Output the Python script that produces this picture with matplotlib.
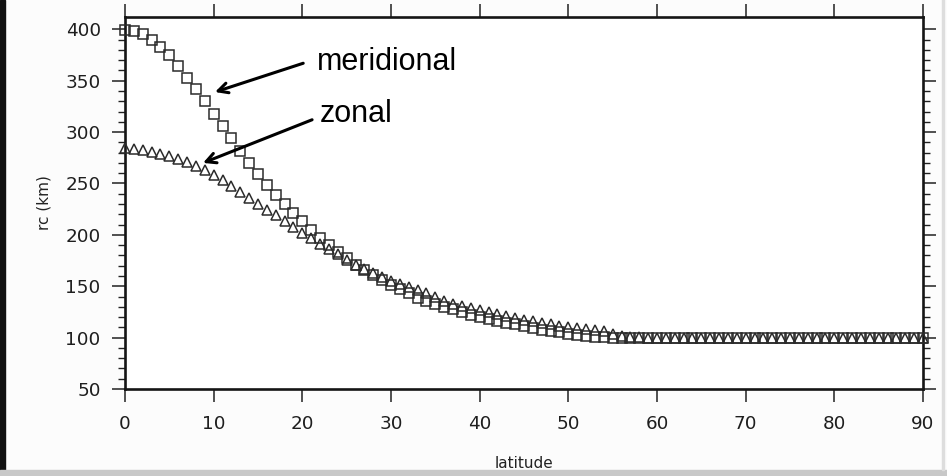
import numpy as np
import matplotlib
matplotlib.use("Agg")
from matplotlib import pyplot as plt
from matplotlib.patches import Rectangle
from matplotlib.ticker import FixedLocator

# latitude grid, 1 degree steps
latitude = np.arange(0, 91)

meridional = [
    399, 398, 395, 390, 383, 375, 364, 353, 342, 330,
    318, 306, 294, 282, 270, 259, 249, 239, 230, 221,
    213, 205, 197, 190, 183, 177, 171, 166, 161, 156,
    151, 147, 143, 139, 136, 133, 130, 128, 125, 122,
    120, 118, 116, 114, 113, 111, 109, 107, 106, 105,
    104, 103, 102, 101, 100.5, 100, 100, 100, 100, 100,
] + [100] * 31

zonal = [
    285, 284, 283, 281, 279, 277, 274, 271, 267, 263,
    258, 253, 248, 242, 236, 230, 224, 219, 213, 208,
    202, 197, 191, 186, 181, 176, 171, 167, 163, 159,
    155, 152, 149, 146, 143, 140, 136, 133, 131, 129,
    127, 125, 123, 121, 119, 117, 116, 114, 113, 111,
    110, 109, 108, 107, 106, 104, 102, 101, 100.5, 100,
] + [100] * 31

xticks = [0, 10, 20, 30, 40, 50, 60, 70, 80, 90]
yticks = [50, 100, 150, 200, 250, 300, 350, 400]

W, H = 947, 476
fig = plt.figure(figsize=(W / 100, H / 100), dpi=100)
fig.patch.set_facecolor("#fcfcfc")
# slide background bits: dark strip on the left, grey band at the bottom
fig.add_artist(Rectangle((0, 0), 5 / W, 1, transform=fig.transFigure,
                         color="#111111", zorder=0))
fig.add_artist(Rectangle((0, 0), 1, 6 / H, transform=fig.transFigure,
                         color="#c8c8c8", zorder=0))
fig.add_artist(Rectangle((942 / W, 6 / H), 1.5 / W, 1, transform=fig.transFigure,
                         color="#dddddd", zorder=0))

ax = fig.add_axes([125 / W, 1 - 389 / H, (923 - 125) / W, (389 - 17) / H])
ax.set_facecolor("white")

ax.plot(latitude, meridional, ls="none", marker="s", ms=7.0, mfc="none",
        mec="#2b2b2b", mew=1.1, clip_on=False, zorder=3)
ax.plot(latitude, zonal, ls="none", marker="^", ms=7.7, mfc="none",
        mec="#2b2b2b", mew=1.1, clip_on=False, zorder=3)

ax.set_xlim(0, 90)
ax.set_ylim(50, 412)
ax.set_xticks(xticks)
ax.set_yticks(yticks)
ax.yaxis.set_minor_locator(FixedLocator([v for v in range(60, 401, 10) if v % 50]))

for s in ax.spines.values():
    s.set_linewidth(1.9)
    s.set_color("#151515")

ax.tick_params(which="both", top=True, right=True, direction="out",
               color="#222222", labelcolor="#1e1e1e")
ax.tick_params(which="major", length=9.5, width=1.1, labelsize=13.2)
ax.tick_params(which="minor", length=5, width=1.0)
ax.tick_params(axis="y", which="major", pad=8)
ax.tick_params(axis="x", which="major", pad=9)

ax.set_xlabel("latitude", fontsize=11, color="#222222", labelpad=17)
ax.set_ylabel("rc (km)", fontsize=11, color="#222222", labelpad=10)

# arrows and labels
arrow = dict(arrowstyle="->, head_length=0.7, head_width=0.36", lw=2.2,
             color="black", shrinkA=0, shrinkB=0)
ax.annotate("", xy=(10.15, 339), xytext=(20.1, 367), arrowprops=arrow,
            annotation_clip=False)
ax.annotate("", xy=(8.8, 270), xytext=(21.1, 312), arrowprops=arrow,
            annotation_clip=False)
ax.text(21.6, 368, "meridional", fontsize=22, family="Liberation Sans",
        va="center", ha="left")
ax.text(22.0, 318, "zonal", fontsize=22, family="Liberation Sans",
        va="center", ha="left")

fig.savefig("out.png", dpi=100, facecolor=fig.get_facecolor())
